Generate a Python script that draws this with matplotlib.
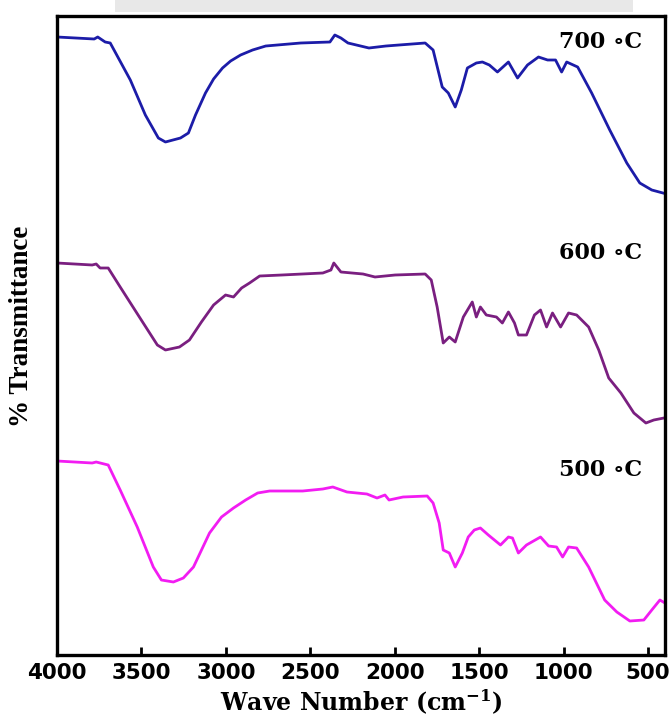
import numpy as np
import matplotlib
matplotlib.use("Agg")
import matplotlib.pyplot as plt
from matplotlib.patches import Rectangle

plt.rcParams["mathtext.fontset"] = "dejavuserif"

# wave numbers (cm-1) and relative transmittance
wn_700 = [4000, 3780, 3759, 3715, 3685, 3566, 3477, 3400, 3358, 3269,
          3222, 3180, 3121, 3073, 3020, 2972, 2913, 2842, 2764, 2557,
          2384, 2355, 2319, 2277, 2153, 2052, 1820, 1773, 1719, 1683,
          1642, 1606, 1570, 1517, 1481, 1440, 1392, 1327, 1273, 1214,
          1149, 1095, 1048, 1012, 982, 917, 834, 727, 626, 549,
          478, 412]
t_700 = [618, 616, 618, 613, 612, 575, 540, 517, 513, 517,
         522, 540, 562, 576, 587, 594, 600, 605, 609, 612,
         613, 620, 617, 612, 607, 609, 612, 605, 568, 562,
         548, 565, 587, 592, 593, 590, 583, 593, 577, 590,
         598, 595, 595, 583, 593, 588, 562, 525, 492, 472,
         465, 462]

wn_600 = [4000, 3792, 3768, 3745, 3697, 3626, 3501, 3406, 3358, 3275,
          3216, 3145, 3073, 3002, 2955, 2907, 2860, 2800, 2669, 2426,
          2378, 2361, 2319, 2188, 2117, 1998, 1820, 1784, 1749, 1713,
          1677, 1642, 1594, 1541, 1517, 1493, 1458, 1398, 1363, 1327,
          1291, 1268, 1220, 1173, 1137, 1101, 1066, 1018, 971, 923,
          852, 792, 733, 661, 584, 513, 466, 406]
t_600 = [392, 390, 391, 387, 387, 368, 335, 310, 305, 308,
         315, 333, 350, 360, 358, 367, 372, 379, 380, 382,
         385, 392, 383, 381, 378, 380, 381, 375, 348, 312,
         318, 313, 338, 353, 338, 348, 340, 338, 332, 343,
         332, 320, 320, 340, 345, 328, 342, 328, 342, 340,
         328, 305, 277, 262, 242, 232, 235, 237]

wn_500 = [4000, 3792, 3768, 3697, 3626, 3525, 3430, 3382, 3311, 3252,
          3192, 3097, 3026, 2955, 2883, 2812, 2741, 2545, 2426, 2367,
          2283, 2165, 2105, 2058, 2034, 1951, 1808, 1773, 1737, 1713,
          1677, 1642, 1600, 1565, 1529, 1493, 1446, 1374, 1327, 1303,
          1268, 1220, 1137, 1089, 1042, 1006, 971, 923, 852, 757,
          685, 608, 525, 478, 430, 400]
t_500 = [194, 192, 193, 190, 165, 128, 88, 75, 73, 77,
         88, 122, 138, 147, 155, 162, 164, 164, 166, 168,
         163, 161, 157, 160, 155, 158, 159, 152, 132, 105,
         102, 88, 102, 118, 125, 127, 120, 110, 118, 117,
         102, 110, 118, 109, 108, 98, 108, 107, 88, 55,
         43, 34, 35, 45, 55, 52]

labels = ["700 \u2218C", "600 \u2218C", "500 \u2218C"]
colors = ["#1c1ca8", "#7a1f80", "#f21cf2"]
label_y = [613, 402, 185]

fig = plt.figure(figsize=(6.71, 7.24), dpi=100)
# light grey strip along the top edge of the source image
fig.patches.append(Rectangle((0.172, 0.984), 0.772, 0.016, transform=fig.transFigure,
                             facecolor="#e8e8e8", edgecolor="none", zorder=0))
ax = fig.add_axes([0.085, 0.0953, 0.906, 0.8826])

series = [(wn_700, t_700), (wn_600, t_600), (wn_500, t_500)]
for (w, t), c in zip(series, colors):
    ax.plot(w, t, color=c, lw=2.0, solid_joinstyle="round")

for lab, y in zip(labels, label_y):
    ax.text(538, y, lab, ha="right", va="center", fontsize=16, fontweight="bold",
            family="DejaVu Serif")

ax.set_xlim(4000, 400)
ax.set_ylim(0, 639)
ax.set_xticks(np.arange(4000, 499, -500))
ax.set_yticks([])
ax.tick_params(axis="x", direction="in", length=6, width=2, pad=6)
for lbl in ax.get_xticklabels():
    lbl.set_fontfamily("DejaVu Sans")
    lbl.set_fontweight("bold")
    lbl.set_fontsize(15.5)
for sp in ax.spines.values():
    sp.set_linewidth(2.4)

ax.set_xlabel("Wave Number (cm$^{\\mathbf{-1}}$)", fontsize=17, fontweight="bold",
              family="DejaVu Serif", labelpad=3)
ax.set_ylabel("% Transmittance", fontsize=19.5, fontweight="bold",
              family="Liberation Serif")
ax.yaxis.set_label_coords(-0.038, 0.515)

plt.savefig("out.png", dpi=100)
